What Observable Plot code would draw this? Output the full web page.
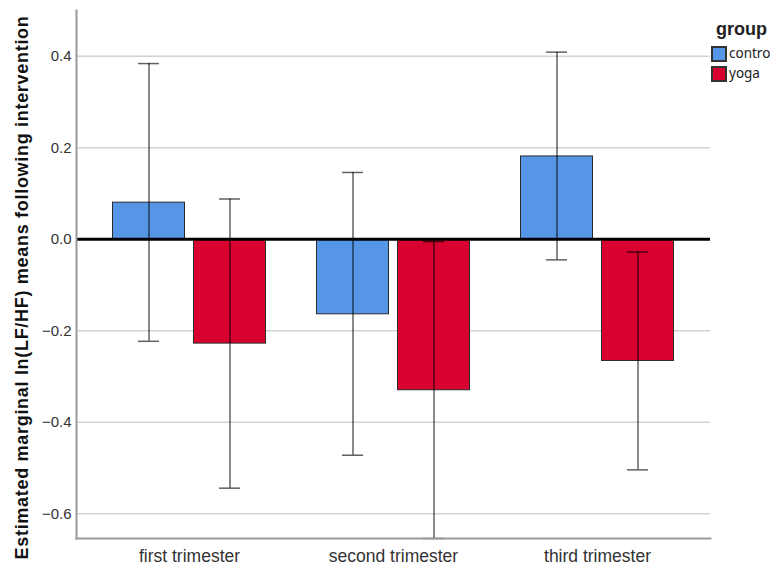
<!DOCTYPE html>
<html>
<head>
<meta charset="utf-8">
<script src="https://cdn.jsdelivr.net/npm/d3@7"></script>
<script src="https://cdn.jsdelivr.net/npm/@observablehq/plot@0.6"></script>
<style>
  html, body { margin: 0; padding: 0; background: #fff; overflow: hidden; }
  #wrap { position: relative; width: 772px; height: 568px; font-family: "Liberation Sans", Arial, sans-serif; }
  #legend { position: absolute; left: 712px; top: 19px; width: 60px; }
  #legend .title { font-weight: bold; font-size: 18px; color: #222; margin-left: 4px; margin-bottom: 5px; line-height: 21px; }
  .lg-swatch { font-size: 13.5px; color: #222; line-height: 17px; margin-bottom: 3px !important; padding: 0 !important; overflow: visible !important; }
  .lg-label { overflow: visible !important; text-overflow: clip !important; line-height: 17px; }
  .lg-swatch > svg { margin-right: 3px !important; }
  .lg-swatch > svg rect { stroke: #333; stroke-width: 2px; }
  g[aria-label="text"] text { letter-spacing: 0.7px; }
</style>
</head>
<body>
<div id="wrap"></div>
<script>
const trimesters = ["first trimester", "second trimester", "third trimester"];
const groups = ["contro", "yoga"];
const controMean = [0.080, -0.164, 0.181];
const controLow  = [-0.223, -0.472, -0.045];
const controHigh = [0.384, 0.146, 0.409];
const yogaMean = [-0.228, -0.330, -0.266];
const yogaLow  = [-0.544, -0.654, -0.504];
const yogaHigh = [0.088, -0.005, -0.028];
const yTicks = [-0.6, -0.4, -0.2, 0, 0.2, 0.4];
const yLabel = "Estimated marginal ln(LF/HF) means following intervention";

const colors = ["#5596e6", "#d7002f"];

const rows = [];
trimesters.forEach((t, i) => {
  rows.push({trimester: t, group: "contro", mean: controMean[i], low: controLow[i], high: controHigh[i]});
  rows.push({trimester: t, group: "yoga", mean: yogaMean[i], low: yogaLow[i], high: yogaHigh[i]});
});
const contro = rows.filter(d => d.group === "contro");
const yoga = rows.filter(d => d.group === "yoga");

// layout within each trimester band
const BAND = 204, BAR = 72, GAP = 9, CAP = 21;
const outer = (BAND - 2 * BAR - GAP) / 2;       // 25.5
const far = BAND - outer - BAR;                  // 106.5
const offset = (BAR + GAP) / 2;                  // 40.5
const capNear = outer + (BAR - CAP) / 2;         // 51
const capFar = BAND - capNear - CAP;             // 132

const font = "'Liberation Sans', Arial, sans-serif";
const err = {stroke: "#000", strokeOpacity: 0.62, strokeWidth: 1.5};

const chart = Plot.plot({
  width: 772,
  height: 568,
  marginTop: 10,
  marginBottom: 30,
  marginLeft: 76,
  marginRight: 62,
  style: {fontFamily: font, background: "#fff"},
  x: {type: "band", domain: trimesters, padding: 0, insetLeft: 10.5, insetRight: 11.5},
  y: {domain: [-0.654, 0.5]},
  color: {domain: groups, range: colors},
  marks: [
    Plot.ruleY(yTicks.filter(v => v !== 0), {stroke: "#d3d3d3", strokeWidth: 1.5}),
    Plot.barY(contro, {x: "trimester", y: "mean", fill: "group", stroke: "#2a2a2a", strokeWidth: 1, insetLeft: outer, insetRight: far}),
    Plot.barY(yoga, {x: "trimester", y: "mean", fill: "group", stroke: "#2a2a2a", strokeWidth: 1, insetLeft: far, insetRight: outer}),
    Plot.ruleY([0], {stroke: "#000", strokeWidth: 3}),
    Plot.ruleX(contro, {x: "trimester", y1: "low", y2: "high", dx: -offset, ...err}),
    Plot.ruleX(yoga, {x: "trimester", y1: "low", y2: "high", dx: offset, ...err}),
    Plot.tickY(contro, {x: "trimester", y: "low", insetLeft: capNear, insetRight: capFar, ...err}),
    Plot.tickY(contro, {x: "trimester", y: "high", insetLeft: capNear, insetRight: capFar, ...err}),
    Plot.tickY(yoga, {x: "trimester", y: "low", insetLeft: capFar, insetRight: capNear, ...err}),
    Plot.tickY(yoga, {x: "trimester", y: "high", insetLeft: capFar, insetRight: capNear, ...err}),
    Plot.frame({anchor: "left", stroke: "#999", strokeWidth: 2}),
    Plot.frame({anchor: "bottom", stroke: "#999", strokeWidth: 2}),
    Plot.axisY({ticks: yTicks, tickSize: 0, tickPadding: 5, tickFormat: d3.format(".1f"), fontSize: 15, fill: "#333", label: null}),
    Plot.axisX({tickSize: 0, tickPadding: 11, fontSize: 17.5, fill: "#333", label: null}),
    Plot.text([yLabel], {frameAnchor: "left", rotate: -90, textAnchor: "middle", dx: -54, dy: 13, fontSize: 18, fontWeight: "bold", fill: "#111", text: d => d})
  ]
});

const wrap = document.getElementById("wrap");
wrap.appendChild(chart);

const legendDiv = document.createElement("div");
legendDiv.id = "legend";
const title = document.createElement("div");
title.className = "title";
title.textContent = "group";
legendDiv.appendChild(title);
legendDiv.appendChild(Plot.legend({color: {domain: groups, range: colors}, legend: "swatches", swatchSize: 14, columns: 1, className: "lg"}));
wrap.appendChild(legendDiv);
</script>
</body>
</html>
